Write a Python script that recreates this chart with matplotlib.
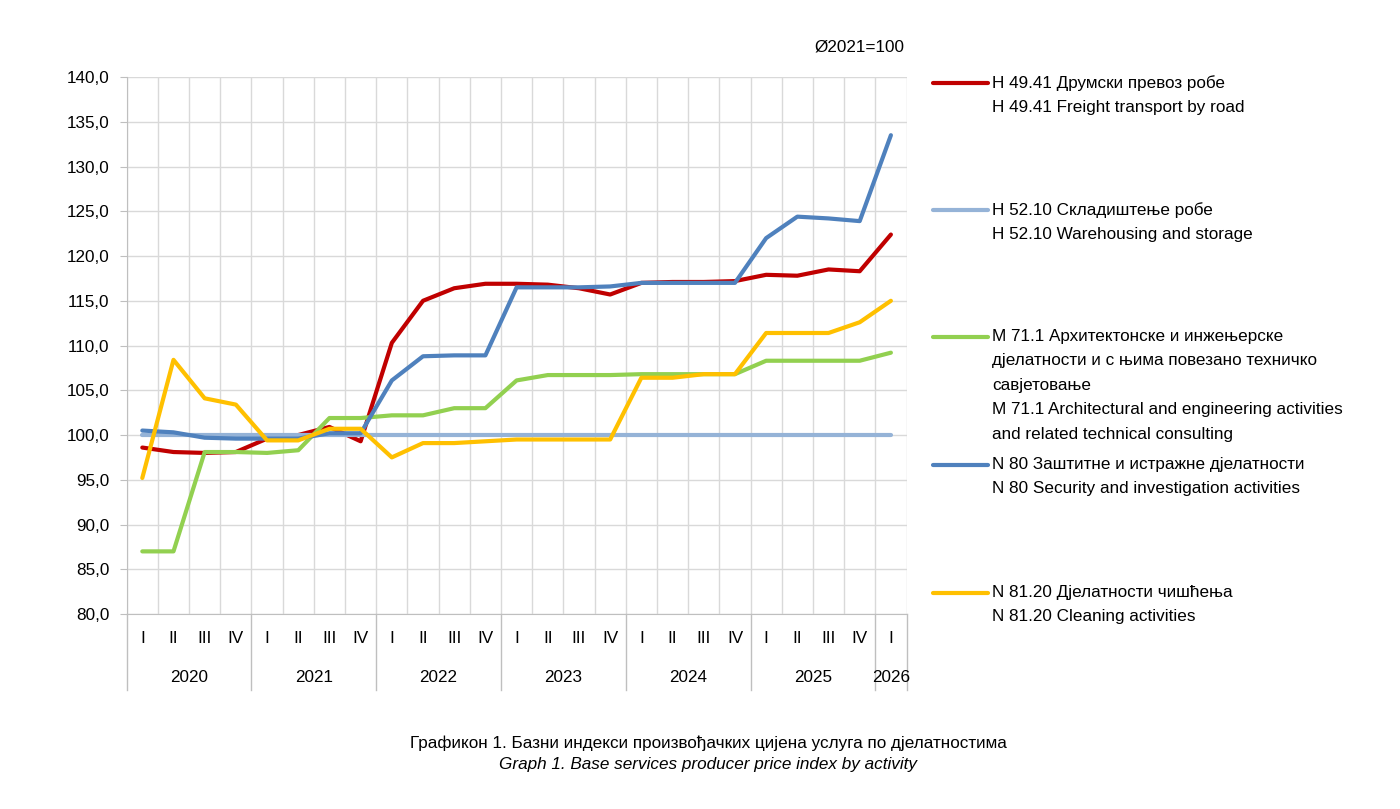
import matplotlib
matplotlib.use('Agg')
import matplotlib.pyplot as plt
from matplotlib.lines import Line2D
from matplotlib.ticker import FuncFormatter, MultipleLocator

plt.rcParams['font.family'] = ['Liberation Sans Narrow', 'Liberation Sans', 'DejaVu Sans']
FS = 12.3

# Quarters 2020 I .. 2026 I
quarters = ['I', 'II', 'III', 'IV'] * 6 + ['I']
years = ['2020', '2021', '2022', '2023', '2024', '2025', '2026']

road = [98.6, 98.1, 98.0, 98.1, 99.6, 100.0, 100.9, 99.3,
        110.3, 115.0, 116.4, 116.9, 116.9, 116.8, 116.4, 115.7,
        117.0, 117.1, 117.1, 117.2, 117.9, 117.8, 118.5, 118.3, 122.4]
storage = [100.0] * 25
architect = [87.0, 87.0, 98.1, 98.1, 98.0, 98.3, 101.9, 101.9,
             102.2, 102.2, 103.0, 103.0, 106.1, 106.7, 106.7, 106.7,
             106.8, 106.8, 106.8, 106.8, 108.3, 108.3, 108.3, 108.3, 109.2]
security = [100.5, 100.3, 99.7, 99.6, 99.6, 99.6, 100.2, 100.2,
            106.1, 108.8, 108.9, 108.9, 116.5, 116.5, 116.5, 116.6,
            117.0, 117.0, 117.0, 117.0, 122.0, 124.4, 124.2, 123.9, 133.5]
cleaning = [95.2, 108.4, 104.1, 103.4, 99.4, 99.4, 100.7, 100.7,
            97.5, 99.1, 99.1, 99.3, 99.5, 99.5, 99.5, 99.5,
            106.4, 106.4, 106.8, 106.8, 111.4, 111.4, 111.4, 112.6, 115.0]

labels = [
    'H 49.41 Друмски превоз робе\nH 49.41 Freight transport by road',
    'H 52.10 Складиштење робе\nH 52.10 Warehousing and storage',
    'M 71.1 Архитектонске и инжењерске\nдјелатности и с њима повезано техничко\n'
    'савјетовање\nM 71.1 Architectural and engineering activities\n'
    'and related technical consulting',
    'N 80 Заштитне и истражне дјелатности\nN 80 Security and investigation activities',
    'N 81.20 Дјелатности чишћења\nN 81.20 Cleaning activities',
]
series = [road, storage, architect, security, cleaning]
colors = ['#C00000', '#95B3D7', '#92D050', '#4F81BD', '#FFC000']
zorders = [3, 4, 5, 6, 7]

fig = plt.figure(figsize=(14, 8.09), dpi=100)
ax = fig.add_axes([0.0905, 0.241, 0.557, 0.6638])

x = list(range(len(quarters)))
for vals, col, z in zip(series, colors, zorders):
    ax.plot(x, vals, color=col, lw=3.0, zorder=z, solid_capstyle='round')

ax.set_xlim(-0.5, 24.5)
ax.set_ylim(80, 140)
ax.yaxis.set_major_locator(MultipleLocator(5))
ax.yaxis.set_major_formatter(FuncFormatter(lambda v, p: f'{v:.1f}'.replace('.', ',')))

# grid on category boundaries
ax.set_xticks([i - 0.5 for i in range(26)], minor=True)
ax.grid(True, which='minor', axis='x', color='#D9D9D9', lw=1)
ax.grid(True, which='major', axis='y', color='#D9D9D9', lw=1)
ax.set_axisbelow(True)

ax.set_xticks(x)
ax.set_xticklabels(quarters, fontsize=FS)
ax.tick_params(axis='x', which='both', length=0, pad=12)
ax.tick_params(axis='y', length=5, color='#BFBFBF', labelsize=FS, pad=7.5)

for side in ['top', 'right']:
    ax.spines[side].set_visible(False)
for side in ['left', 'bottom']:
    ax.spines[side].set_color('#BFBFBF')

# year level of the category axis
tr = ax.get_xaxis_transform()
for b in [-0.5, 3.5, 7.5, 11.5, 15.5, 19.5, 23.5, 24.5]:
    ax.plot([b, b], [0, -0.1415], color='#BFBFBF', lw=1, transform=tr, clip_on=False)
year_pos = [1.5, 5.5, 9.5, 13.5, 17.5, 21.5, 24]
for yp, yr in zip(year_pos, years):
    ax.text(yp, -0.1173, yr, transform=tr, ha='center', va='center', fontsize=FS)

fig.text(0.6464, 0.942, 'Ø2021=100', ha='right', va='center', fontsize=FS)

# legend
legend_y = [83, 210, 337, 465, 593]
for ly, col, lab in zip(legend_y, colors, labels):
    yf = 1 - ly / 809
    fig.add_artist(Line2D([0.6664, 0.7057], [yf, yf], color=col, lw=3.0,
                          solid_capstyle='round'))
    fig.text(0.7086, yf + 0.0098, lab, ha='left', va='top', fontsize=FS,
             linespacing=1.78)

fig.text(0.5057, 1 - 743 / 809,
         'Графикон 1. Базни индекси произвођачких цијена услуга по дјелатностима',
         ha='center', va='center', fontsize=FS)
fig.text(0.5057, 1 - 765 / 809,
         'Graph 1. Base services producer price index by activity',
         ha='center', va='center', fontsize=FS, style='italic')

fig.savefig('out.png', dpi=100)
